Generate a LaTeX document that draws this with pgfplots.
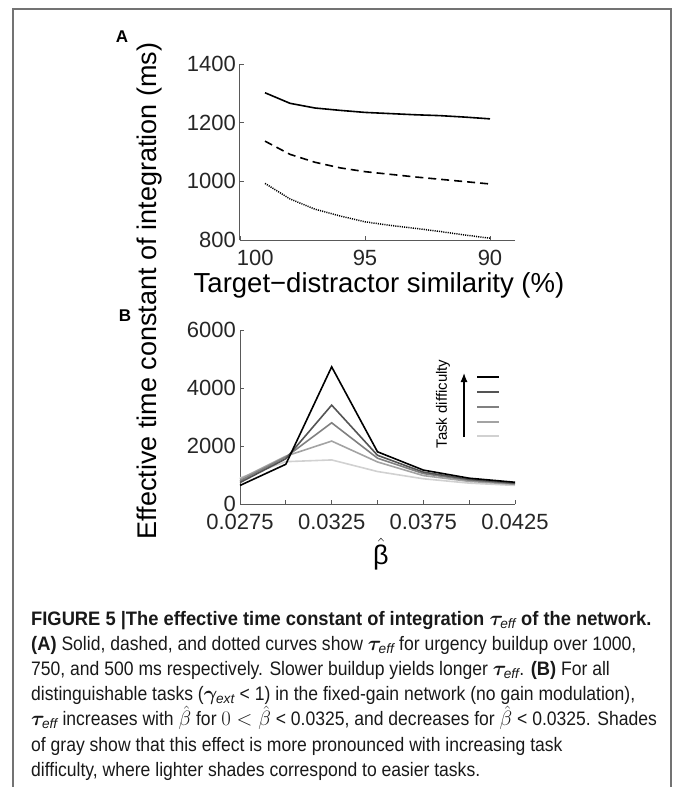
\documentclass[border=0pt]{standalone}
\usepackage{fontspec}
\setmainfont{Liberation Sans}
\newfontfamily\capfont[FakeStretch=0.90]{Liberation Sans}
\newfontfamily\capbf[FakeStretch=0.94]{Liberation Sans Bold}
\usepackage{amsmath}
\usepackage{bm}
\usepackage{pgfplots}
\pgfplotsset{compat=1.18}
\usetikzlibrary{arrows.meta}
\definecolor{gb}{gray}{0.33}
\definecolor{gc}{gray}{0.5}
\definecolor{gd}{gray}{0.64}
\definecolor{ge}{gray}{0.82}
\definecolor{axc}{gray}{0.35}
\newcommand{\teff}{$\bm{\tau}_{\mathit{eff}}$}
\begin{document}
\begin{tikzpicture}
\path[use as bounding box] (0pt,0pt) rectangle (673pt,-787pt);
\pgfplotsset{
  myax/.style={
    scale only axis, width=275pt,
    axis lines*=left,
    axis line style={axc, line width=1pt},
    tick style={axc, line width=0.8pt},
    tick align=inside,
    major tick length=4pt,
    every tick label/.append style={font=\fontsize{22}{24}\selectfont, text=black!85},
    /pgf/number format/assume math mode=true,
    scaled x ticks=false, scaled y ticks=false,
    yticklabel style={inner sep=0pt, xshift=-4pt},
    xticklabel style={inner sep=0pt, yshift=-9.5pt},
    clip=false,
  }
}
% Panel A
\begin{axis}[myax, height=176pt, at={(240pt,-240pt)}, anchor=south west,
  x dir=reverse, xmin=89, xmax=100, ymin=800, ymax=1400,
  xtick={100,95,90}, xticklabels={\makebox[0pt][l]{\hspace{-3pt}100},95,90},
  ytick={800,1000,1200,1400}, yticklabels={800,1000,1200,1400}]
\addplot[black, line width=1.6pt] coordinates {
 (99,1302) (98,1266) (97,1250) (96,1242) (95,1235) (94,1231) (93,1227) (92,1224) (91,1219) (90,1213)};
\addplot[black, line width=1.6pt, dash pattern=on 8pt off 5pt] coordinates {
 (99,1137) (98,1092) (97,1065) (96,1046) (95,1033) (94,1024) (93,1015) (92,1007) (91,999) (90,991)};
\addplot[black, line width=1.5pt, dash pattern=on 1.1pt off 1.1pt] coordinates {
 (99,993) (98,940) (97,905) (96,882) (95,862) (94,850) (93,840) (92,829) (91,817) (90,806)};
\end{axis}
% Panel B
\begin{axis}[myax, height=174pt, at={(240pt,-504pt)}, anchor=south west,
  xmin=0.0275, xmax=0.0425, ymin=0, ymax=6000,
  xtick={0.0275,0.03,0.0325,0.035,0.0375,0.04,0.0425},
  xticklabels={0.0275,,0.0325,,0.0375,,0.0425},
  ytick={0,2000,4000,6000}, yticklabels={0,2000,4000,6000}]
\addplot[ge, line width=1.6pt] coordinates {
 (0.0275,900) (0.03,1460) (0.0325,1520) (0.035,1120) (0.0375,870) (0.04,720) (0.0425,640)};
\addplot[gd, line width=1.6pt] coordinates {
 (0.0275,860) (0.03,1650) (0.0325,2170) (0.035,1450) (0.0375,980) (0.04,780) (0.0425,680)};
\addplot[gc, line width=1.6pt] coordinates {
 (0.0275,800) (0.03,1620) (0.0325,2800) (0.035,1580) (0.0375,1050) (0.04,820) (0.0425,700)};
\addplot[gb, line width=1.6pt] coordinates {
 (0.0275,740) (0.03,1560) (0.0325,3410) (0.035,1680) (0.0375,1100) (0.04,850) (0.0425,720)};
\addplot[black, line width=1.6pt] coordinates {
 (0.0275,640) (0.03,1370) (0.0325,4730) (0.035,1800) (0.0375,1170) (0.04,890) (0.0425,750)};
\end{axis}
% legend of panel B
\node[rotate=90, font=\fontsize{15}{17}\selectfont] at (443pt,-404pt) {Task difficulty};
\draw[-{Latex[length=9pt,width=7pt]}, line width=1.2pt] (464pt,-437pt) -- (464pt,-373pt);
\draw[black, line width=2pt] (477pt,-377pt) -- (499pt,-377pt);
\draw[gb, line width=2pt] (477pt,-392pt) -- (499pt,-392pt);
\draw[gc, line width=2pt] (477pt,-406.5pt) -- (499pt,-406.5pt);
\draw[gd, line width=2pt] (477pt,-421.5pt) -- (499pt,-421.5pt);
\draw[ge, line width=2pt] (477pt,-436pt) -- (499pt,-436pt);
% labels
\node[font=\bfseries\fontsize{17}{19}\selectfont] at (122pt,-37pt) {A};
\node[font=\bfseries\fontsize{17}{19}\selectfont] at (125pt,-316pt) {B};
\node[rotate=90, anchor=base, font=\fontsize{27}{30}\selectfont] at (156pt,-291pt) {Effective time constant of integration (ms)};
\node[anchor=base, font=\fontsize{27.5}{30}\selectfont] at (379pt,-292pt) {Target−distractor similarity (\%)};
\node[anchor=base, font=\fontsize{27}{30}\selectfont] at (381pt,-564pt) {$\hat{\mbox{β}}$};
% frame
\draw[black!55, line width=1.3pt] (13pt,-787pt) -- (13pt,-9pt) -- (671pt,-9pt) -- (671pt,-787pt);
% caption
\begin{scope}[every node/.style={anchor=base west, inner sep=0pt, text=black!90, font=\capfont\fontsize{19.5}{22}\selectfont}]
\node at (31pt,-625pt) {\capbf FIGURE 5 |The effective time constant of integration \teff\ of the network.};
\node at (31pt,-650.2pt) {{\capbf (A)} Solid, dashed, and dotted curves show \teff\ for urgency buildup over 1000,};
\node at (31pt,-675.4pt) {750, and 500 ms respectively. Slower buildup yields longer \teff. {\capbf (B)} For all};
\node at (31pt,-700.6pt) {distinguishable tasks ($\bm{\gamma}_{\mathit{ext}}$ < 1) in the fixed-gain network (no gain modulation),};
\node at (31pt,-725.8pt) {\teff\ increases with $\hat{\beta}$ for $0<\hat{\beta}$ < 0.0325, and decreases for $\hat{\beta}$ < 0.0325. Shades};
\node at (31pt,-751pt) {of gray show that this effect is more pronounced with increasing task};
\node at (31pt,-776.2pt) {difficulty, where lighter shades correspond to easier tasks.};
\end{scope}
\end{tikzpicture}
\end{document}
